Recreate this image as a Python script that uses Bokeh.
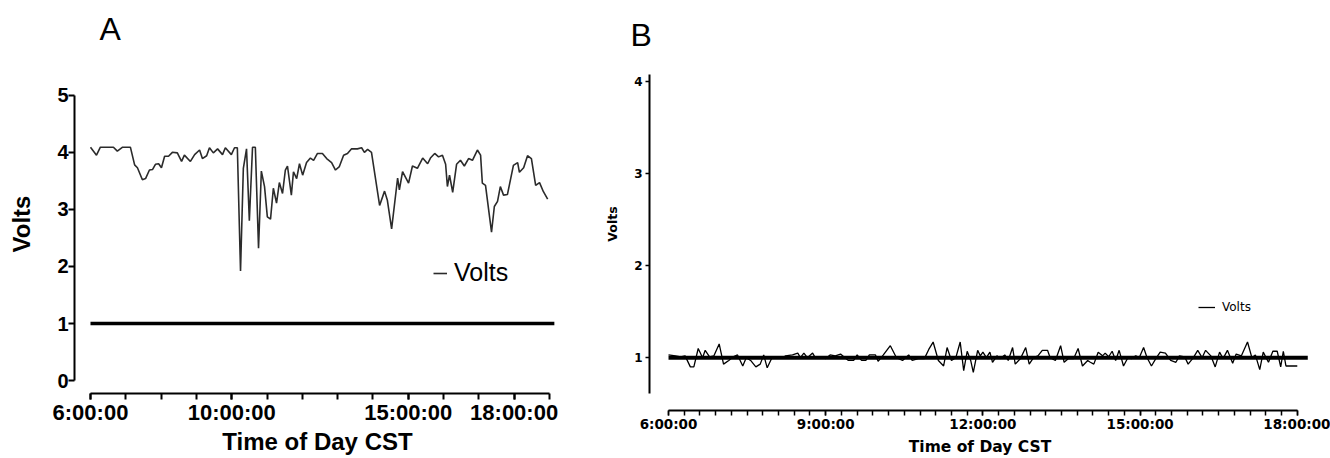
from bokeh.plotting import figure
from bokeh.layouts import row
from bokeh.models import Range1d, FixedTicker, Legend, LegendItem, Title
from bokeh.embed import file_html
from bokeh.resources import INLINE

# ---------------- Panel A data (time in hours of day CST, volts) ----------------
a_time = [6.00, 6.17, 6.28, 6.65, 6.76, 6.91, 7.13, 7.25, 7.33, 7.47, 7.56, 7.67, 7.76, 7.84,
          7.93, 8.01, 8.10, 8.21, 8.32, 8.46, 8.58, 8.66, 8.83, 8.95, 9.09, 9.17, 9.29, 9.37,
          9.48, 9.60, 9.74, 9.82, 9.99, 10.08, 10.16, 10.25, 10.33, 10.42, 10.50, 10.59, 10.67,
          10.76, 10.84, 10.93, 11.01, 11.10, 11.18, 11.27, 11.35, 11.44, 11.52, 11.58, 11.69,
          11.75, 11.84, 11.92, 12.01, 12.12, 12.23, 12.32, 12.43, 12.57, 12.69, 12.83, 12.94,
          13.05, 13.17, 13.28, 13.39, 13.56, 13.68, 13.76, 13.85, 13.96, 14.13, 14.19, 14.33,
          14.41, 14.53, 14.70, 14.75, 14.84, 15.01, 15.12, 15.26, 15.41, 15.55, 15.63, 15.75,
          15.86, 15.97, 16.06, 16.11, 16.17, 16.26, 16.37, 16.48, 16.59, 16.71, 16.82, 16.96,
          17.05, 17.10, 17.19, 17.36, 17.44, 17.53, 17.61, 17.70, 17.81, 17.98, 18.10, 18.15,
          18.27, 18.38, 18.49, 18.61, 18.72, 18.83, 18.95]
a_volts = [4.09, 3.95, 4.09, 4.09, 4.02, 4.09, 4.09, 3.78, 3.73, 3.52, 3.54, 3.69, 3.70, 3.79,
           3.80, 3.73, 3.93, 3.93, 4.00, 3.99, 3.84, 3.95, 3.84, 3.96, 4.04, 3.89, 3.94, 4.08,
           3.99, 4.06, 3.96, 4.08, 3.96, 4.08, 4.08, 1.92, 3.72, 4.06, 2.80, 4.09, 4.09,
           2.32, 3.67, 3.40, 2.87, 2.83, 3.37, 3.11, 3.47, 3.28, 3.69, 3.76, 3.25,
           3.66, 3.54, 3.80, 3.60, 3.82, 3.90, 3.86, 3.98, 3.98, 3.89, 3.82, 3.69,
           3.75, 3.95, 3.98, 4.06, 4.06, 4.08, 4.00, 4.05, 4.00, 3.31, 3.07, 3.32,
           3.16, 2.66, 3.55, 3.34, 3.66, 3.46, 3.76, 3.72, 3.90, 3.80, 3.90, 3.98,
           3.92, 3.95, 3.79, 3.40, 3.60, 3.30, 3.79, 3.86, 3.76, 3.89, 3.86, 4.04,
           3.95, 3.46, 3.42, 2.60, 3.05, 3.14, 3.40, 3.25, 3.26, 3.77, 3.82, 3.65,
           3.73, 3.94, 3.89, 3.42, 3.47, 3.31, 3.18]
a_ref_time = [6.0, 19.14]
a_ref_volts = [1.0, 1.0]
a_xticks = [6, 10, 15, 18]
a_xlabels = ["6:00:00", "10:00:00", "15:00:00", "18:00:00"]
a_xminor = [6, 7, 8, 9, 10, 11, 12, 13, 14, 15, 16, 17, 18, 19]
a_yticks = [0, 1, 2, 3, 4, 5]

# ---------------- Panel B data (minutes after 6:00:00, volts) ----------------
b_minutes = [0, 8, 14, 19, 25, 29, 34, 39, 42, 47, 52, 58, 63, 69, 74, 79, 85, 89, 94, 100,
             105, 109, 113, 119, 125, 131, 134, 142, 148, 151, 155, 159, 165, 168, 174, 180,
             185, 191, 197, 202, 206, 212, 216, 221, 226, 230, 237, 240, 246, 254, 261, 268,
             275, 279, 286, 293, 298, 303, 309, 315, 319, 324, 329, 334, 338, 342, 346, 349,
             354, 357, 360, 364, 368, 371, 376, 380, 385, 389, 394, 397, 403, 409, 413, 418,
             423, 428, 434, 437, 443, 449, 453, 458, 464, 469, 474, 480, 483, 487, 492, 497,
             500, 504, 508, 512, 516, 521, 526, 530, 535, 539, 544, 548, 553, 558, 563, 569,
             575, 581, 585, 591, 595, 601, 606, 611, 615, 621, 626, 631, 635, 640, 646, 650,
             656, 663, 668, 672, 677, 681, 687, 692, 697, 701, 704, 707, 720]
b_volts = [1.03, 1.02, 1.01, 1.02, 0.90, 0.90, 1.10, 1.00, 1.08, 1.01, 1.02, 1.15, 0.93, 0.97,
           1.01, 1.03, 0.91, 1.00, 0.97, 0.90, 0.93, 1.03, 0.89, 1.01, 1.00, 1.00, 1.02, 1.03,
           1.05, 1.00, 1.05, 1.00, 1.05, 1.00, 1.01, 0.99, 1.03, 1.02, 1.04, 1.00, 0.97, 0.97,
           1.03, 0.97, 0.97, 1.03, 1.03, 0.96, 1.03, 1.13, 1.00, 0.97, 1.03, 0.97, 0.99, 0.99,
           1.09, 1.17, 0.97, 0.91, 1.11, 0.97, 1.00, 1.17, 0.86, 1.07, 0.97, 0.84, 1.08, 1.02,
           1.06, 1.00, 1.06, 0.95, 1.02, 0.99, 1.03, 0.97, 1.11, 0.93, 0.99, 1.11, 0.93, 1.00,
           1.02, 1.08, 1.08, 1.00, 0.97, 1.13, 0.95, 0.99, 0.99, 1.10, 0.91, 0.97, 0.95, 0.93,
           1.06, 1.02, 1.05, 1.01, 1.07, 0.97, 1.08, 0.91, 1.00, 0.99, 1.02, 1.00, 1.11, 1.00,
           0.91, 0.99, 1.06, 1.05, 0.97, 0.95, 1.02, 1.01, 0.93, 1.00, 1.08, 1.00, 1.08, 1.02,
           0.90, 1.06, 0.99, 1.08, 0.94, 1.04, 1.02, 1.17, 1.00, 1.03, 0.87, 1.06, 0.95, 1.07,
           1.07, 0.90, 1.07, 0.91, 0.91]
b_ref_time = [6.0, 18.2]
b_ref_volts = [1.0, 1.0]
b_xticks = [6, 9, 12, 15, 18]
b_xlabels = ["6:00:00", "9:00:00", "12:00:00", "15:00:00", "18:00:00"]
b_xminor = [6.0, 6.3, 6.6, 6.9, 7.2, 7.5, 7.8, 8.1, 8.4, 8.7, 9.0, 9.3, 9.6, 9.9, 10.2, 10.5,
            10.8, 11.1, 11.4, 11.7, 12.0, 12.3, 12.6, 12.9, 13.2, 13.5, 13.8, 14.1, 14.4, 14.7,
            15.0, 15.3, 15.6, 15.9, 16.2, 16.5, 16.8, 17.1, 17.4, 17.7, 18.0]
b_yticks = [1, 2, 3, 4]

b_time = [6 + m / 60.0 for m in b_minutes]

ARIAL = "Liberation Sans"
DEJA = "DejaVu Sans"


def base_style(p):
    p.grid.visible = False
    p.outline_line_color = None
    p.background_fill_color = "white"
    p.border_fill_color = "white"
    for ax in (p.xaxis[0], p.yaxis[0]):
        ax.axis_line_color = "black"
        ax.major_tick_line_color = "black"
        ax.minor_tick_line_color = "black"
        ax.major_tick_in = 0
        ax.minor_tick_in = 0
        ax.major_label_text_color = "black"
        ax.axis_label_text_color = "black"


# ======================= Panel A =======================
pA = figure(width=590, height=458, output_backend="svg", toolbar_location=None,
            x_range=Range1d(5.547, 19.314), y_range=Range1d(-0.226, 5.714),
            min_border_left=74, min_border_right=30, min_border_top=52, min_border_bottom=65)
base_style(pA)
pA.title.text = "A"
pA.title.align = "left"
pA.title.offset = 25
pA.title.standoff = 16
pA.title.text_font = ARIAL
pA.title.text_font_style = "normal"
pA.title.text_font_size = "32px"
pA.title.text_color = "black"

rA = pA.line(a_time, a_volts, line_color="#2b2b2b", line_width=1.6)
pA.line(a_ref_time, a_ref_volts, line_color="black", line_width=3.5)

xa = pA.xaxis[0]
xa.ticker = FixedTicker(ticks=a_xticks, minor_ticks=a_xminor)
xa.major_label_overrides = {t: l for t, l in zip(a_xticks, a_xlabels)}
xa.bounds = (6, 19)
xa.axis_line_width = 2
xa.major_tick_line_width = 2
xa.minor_tick_line_width = 2
xa.major_tick_out = 6
xa.minor_tick_out = 6
xa.major_label_standoff = 0
xa.major_label_text_font = ARIAL
xa.major_label_text_font_style = "bold"
xa.major_label_text_font_size = "22px"
xa.axis_label = "Time of Day CST"
xa.axis_label_text_font = ARIAL
xa.axis_label_text_font_style = "bold"
xa.axis_label_text_font_size = "24px"
xa.axis_label_standoff = 0

ya = pA.yaxis[0]
ya.ticker = FixedTicker(ticks=a_yticks, minor_ticks=[])
ya.bounds = (0, 5)
ya.axis_line_width = 2
ya.major_tick_line_width = 2
ya.major_tick_out = 6
ya.minor_tick_out = 0
ya.major_label_standoff = 0
ya.major_label_text_font = ARIAL
ya.major_label_text_font_style = "bold"
ya.major_label_text_font_size = "20px"
ya.axis_label = "Volts"
ya.axis_label_text_font = ARIAL
ya.axis_label_text_font_style = "bold"
ya.axis_label_text_font_size = "24px"
ya.axis_label_standoff = 19

legA = Legend(items=[LegendItem(label="Volts", renderers=[rA])], location=(359, 106),
              background_fill_alpha=0, border_line_color=None, padding=0, margin=0,
              glyph_width=14, glyph_height=22, label_standoff=7, label_height=22,
              label_text_font=ARIAL, label_text_font_size="25px", label_text_color="black")
pA.add_layout(legA)

# ======================= Panel B =======================
pB = figure(width=740, height=458, output_backend="svg", toolbar_location=None,
            x_range=Range1d(5.637, 18.252), y_range=Range1d(0.611, 4.294),
            min_border_left=59, min_border_right=20, min_border_top=52, min_border_bottom=65)
base_style(pB)
pB.title.text = "B"
pB.title.align = "left"
pB.title.offset = -19
pB.title.standoff = 4
pB.title.text_font = ARIAL
pB.title.text_font_style = "normal"
pB.title.text_font_size = "32px"
pB.title.text_color = "black"

rB = pB.line(b_time, b_volts, line_color="black", line_width=1.3)
pB.line(b_ref_time, b_ref_volts, line_color="black", line_width=4)

xb = pB.xaxis[0]
xb.ticker = FixedTicker(ticks=b_xticks, minor_ticks=b_xminor)
xb.major_label_overrides = {t: l for t, l in zip(b_xticks, b_xlabels)}
xb.bounds = (6, 18)
xb.axis_line_width = 2
xb.major_tick_line_width = 1.5
xb.minor_tick_line_width = 1.5
xb.major_tick_out = 5
xb.minor_tick_out = 5
xb.major_label_standoff = 0
xb.major_label_text_font = DEJA
xb.major_label_text_font_style = "bold"
xb.major_label_text_font_size = "13.5px"
xb.axis_label = "Time of Day CST"
xb.axis_label_text_font = DEJA
xb.axis_label_text_font_style = "bold"
xb.axis_label_text_font_size = "15.5px"
xb.axis_label_standoff = 3

# empty spacer between the plot area and the B time axis (axis sits lower than in A)
spacer = Title(text=" ", text_font=DEJA, text_font_size="12px", standoff=1)
pB.below = [spacer] + list(pB.below)

yb = pB.yaxis[0]
yb.ticker = FixedTicker(ticks=b_yticks, minor_ticks=[])
yb.bounds = (0.61, 4.08)
yb.axis_line_width = 2
yb.major_tick_line_width = 1.5
yb.major_tick_out = 4
yb.minor_tick_out = 0
yb.major_label_standoff = 3
yb.major_label_text_font = DEJA
yb.major_label_text_font_style = "bold"
yb.major_label_text_font_size = "12px"
yb.axis_label = "Volts"
yb.axis_label_text_font = DEJA
yb.axis_label_text_font_style = "bold"
yb.axis_label_text_font_size = "12.5px"
yb.axis_label_standoff = 11

legB = Legend(items=[LegendItem(label="Volts", renderers=[rB])], location=(549, 79),
              background_fill_alpha=0, border_line_color=None, padding=0, margin=0,
              glyph_width=17, glyph_height=14, label_standoff=7, label_height=14,
              label_text_font=DEJA, label_text_font_size="12px", label_text_color="black")
pB.add_layout(legB)

layout = row(pA, pB, spacing=0)
open("out.html", "w").write(file_html(layout, INLINE))
